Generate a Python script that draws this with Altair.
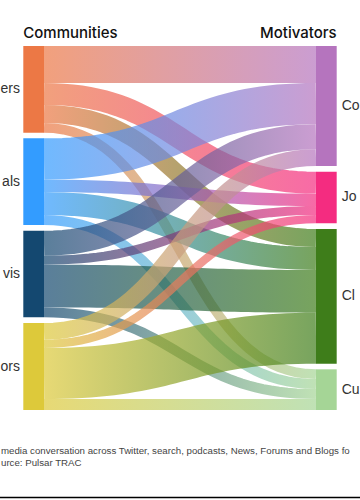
import altair as alt
import pandas as pd
import numpy as np

# ---- data ----
communities = ["ers", "als", "vis", "ors"]
community_colors = ["#EC7845", "#339CFF", "#144870", "#DDC93A"]
motivators = ["Co", "Jo", "Cl", "Cu"]
motivator_colors = ["#B574BE", "#F42C80", "#3E7D1A", "#A5D596"]
# rows: communities, columns: motivators
flows_ers = [37.0, 22.0, 18.0, 9.7]
flows_als = [41.3, 12.4, 23.0, 10.0]
flows_vis = [25.0, 9.0, 42.7, 10.0]
flows_ors = [16.7, 8.3, 51.0, 11.0]
left_title = "Communities"
right_title = "Motivators"
caption_1 = "media conversation across Twitter, search, podcasts, News, Forums and Blogs fo"
caption_2 = "urce: Pulsar TRAC"

# ---- sankey layout ----
F = np.array([flows_ers, flows_als, flows_vis, flows_ors])
GAP = 5.67
NODE_W = 0.0761
src_tot = F.sum(axis=1)
tgt_tot = F.sum(axis=0)
YMAX = F.sum() + 3 * GAP

xs = alt.Scale(domain=[0, 1], range=[44, 316])
ys = alt.Scale(domain=[0, YMAX], range=[46, 410])
sizes = alt.Scale(domain=[0, YMAX], range=[0, 364])

src_y0, y = [], 0.0
for v in src_tot:
    src_y0.append(y)
    y += v + GAP
tgt_y0, y = [], 0.0
for v in tgt_tot:
    tgt_y0.append(y)
    y += v + GAP

node_rows = []
for i, name in enumerate(communities):
    node_rows.append(dict(name=name, x=-NODE_W, x2=0.0, y=src_y0[i], y2=src_y0[i] + src_tot[i],
                          yc=src_y0[i] + src_tot[i] / 2, side="L"))
for j, name in enumerate(motivators):
    node_rows.append(dict(name=name, x=1.0, x2=1.0 + NODE_W, y=tgt_y0[j], y2=tgt_y0[j] + tgt_tot[j],
                          yc=tgt_y0[j] + tgt_tot[j] / 2, side="R"))
nodes = pd.DataFrame(node_rows)

u = np.linspace(0, 1, 41)
bx = 1.5 * u * (1 - u) + u ** 3
by = 3 * (1 - u) * u ** 2 + u ** 3

src_off = list(src_y0)
tgt_off = list(tgt_y0)
link_layers = []
for i in range(4):
    for j in range(4):
        w = F[i, j]
        yc0 = src_off[i] + w / 2
        yc1 = tgt_off[j] + w / 2
        src_off[i] += w
        tgt_off[j] += w
        if abs(yc1 - yc0) < 1e-6:
            yc1 += 0.02  # keep a non-zero bounding box for the gradient
        df = pd.DataFrame({"x": bx, "y": yc0 + (yc1 - yc0) * by, "w": w, "k": np.arange(len(u))})
        grad = alt.Gradient(
            gradient="linear",
            stops=[alt.GradientStop(color=community_colors[i], offset=0),
                   alt.GradientStop(color=motivator_colors[j], offset=1)],
            x1=0, x2=1, y1=0, y2=0,
        )
        link_layers.append(
            alt.Chart(df).mark_line(stroke=grad, strokeOpacity=0.7, strokeCap="butt").encode(
                x=alt.X("x:Q", scale=xs, axis=None),
                y=alt.Y("y:Q", scale=ys, axis=None),
                size=alt.Size("w:Q", scale=sizes, legend=None),
                order="k:Q",
            )
        )

node_layer = alt.Chart(nodes).mark_rect().encode(
    x=alt.X("x:Q", scale=xs, axis=None),
    x2="x2:Q",
    y=alt.Y("y:Q", scale=ys, axis=None),
    y2="y2:Q",
    color=alt.Color("name:N", scale=alt.Scale(domain=communities + motivators,
                                              range=community_colors + motivator_colors), legend=None),
)

FONT = "Liberation Sans"
left_labels = alt.Chart(nodes[nodes.side == "L"]).mark_text(
    align="right", baseline="middle", dx=-3.3, fontSize=14, font=FONT, color="#333333"
).encode(x=alt.X("x:Q", scale=xs, axis=None), y=alt.Y("yc:Q", scale=ys, axis=None), text="name:N")
right_labels = alt.Chart(nodes[nodes.side == "R"]).mark_text(
    align="left", baseline="middle", dx=5, fontSize=14, font=FONT, color="#333333"
).encode(x=alt.X("x2:Q", scale=xs, axis=None), y=alt.Y("yc:Q", scale=ys, axis=None), text="name:N")

titles = pd.DataFrame({"t": [left_title, right_title], "x": [-NODE_W, 1 + NODE_W]})
left_t = alt.Chart(titles.iloc[[0]]).mark_text(
    align="left", baseline="alphabetic", fontSize=15, font="Inter", fontWeight=500, color="#111111"
).encode(x=alt.X("x:Q", scale=xs, axis=None), y=alt.value(37.5), text="t:N")
right_t = alt.Chart(titles.iloc[[1]]).mark_text(
    align="right", baseline="alphabetic", fontSize=15, font="Inter", fontWeight=500, color="#111111"
).encode(x=alt.X("x:Q", scale=xs, axis=None), y=alt.value(37.5), text="t:N")

cap = pd.DataFrame({"t": [caption_1, caption_2], "row": [0, 1]})
cap1 = alt.Chart(cap.iloc[[0]]).mark_text(
    align="left", baseline="middle", fontSize=9.7, font=FONT, color="#444444"
).encode(x=alt.value(1), y=alt.value(451), text="t:N")
cap2 = alt.Chart(cap.iloc[[1]]).mark_text(
    align="left", baseline="middle", fontSize=9.7, font=FONT, color="#444444"
).encode(x=alt.value(1), y=alt.value(463), text="t:N")

rule = alt.Chart(pd.DataFrame({"a": [0]})).mark_rule(color="#000000", strokeWidth=1.5).encode(
    x=alt.value(0), x2=alt.value(360), y=alt.value(497.5)
)

chart = alt.layer(*link_layers, node_layer, left_labels, right_labels, left_t, right_t, cap1, cap2, rule).properties(
    width=360, height=500, padding=0, autosize=alt.AutoSizeParams(type="none")
).configure_view(stroke=None)

chart.save("out.html", embed_options={"renderer": "svg", "actions": False})
